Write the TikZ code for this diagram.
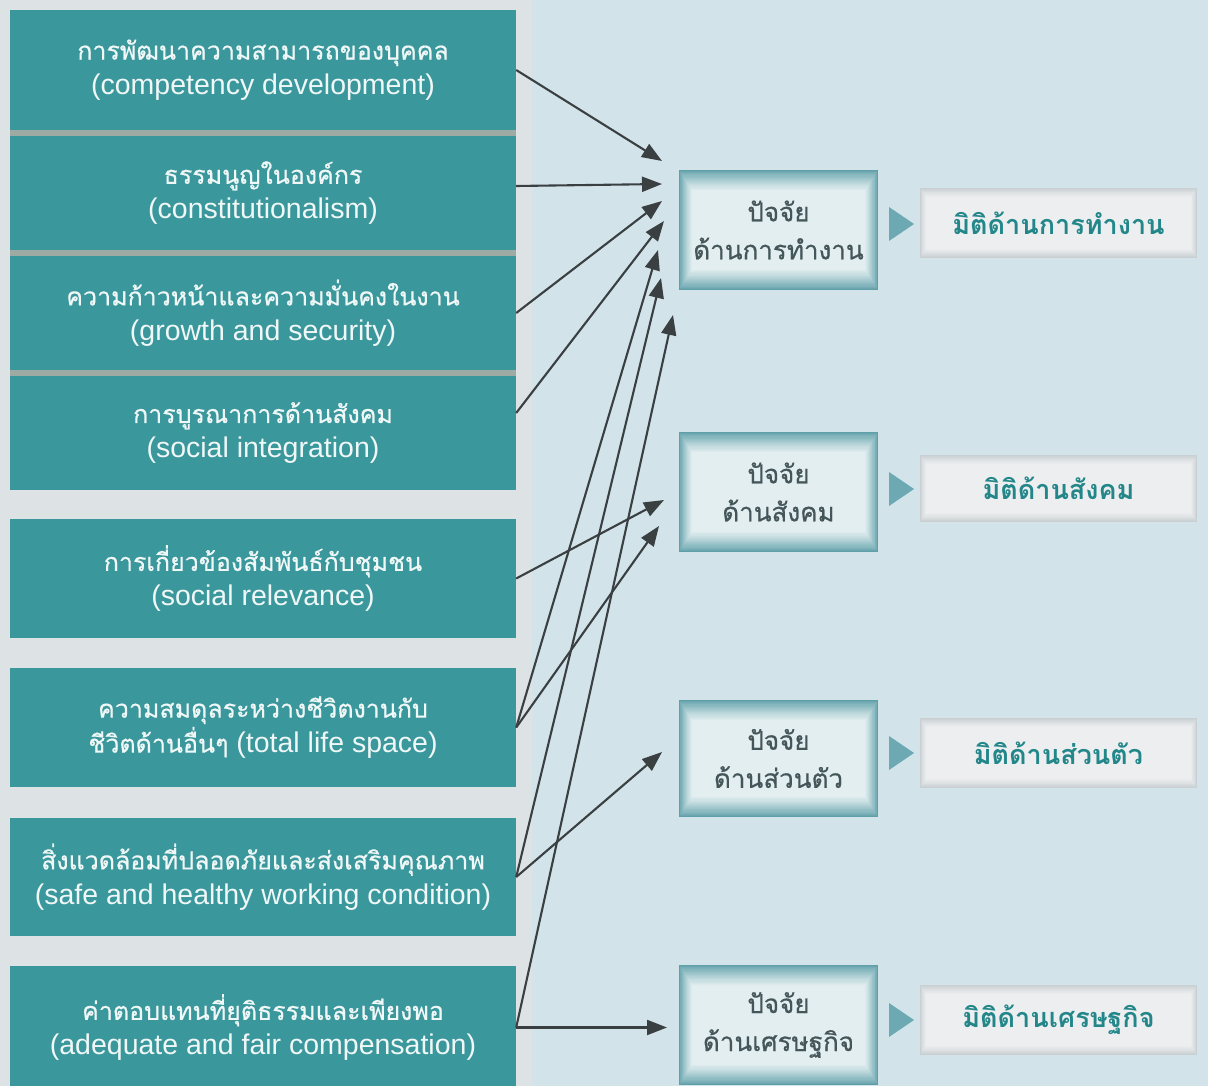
\documentclass[tikz,border=0pt]{standalone}
\usepackage{fontspec}
\setmainfont{Liberation Sans}
\newfontfamily\thaifont[Script=Thai]{Loma}
\newfontfamily\thaimed[Script=Thai,FakeBold=0.6]{Loma}
\newcommand\thl{\fontsize{25}{35}\selectfont\thaimed}
\usetikzlibrary{arrows.meta,calc}
\definecolor{bg}{HTML}{D2E3EA}
\definecolor{leftbg}{HTML}{DDE3E5}
\definecolor{tealbox}{HTML}{3A979C}
\definecolor{sepc}{HTML}{9DABA4}
\definecolor{arrowc}{HTML}{3A3F42}
\definecolor{midedge}{HTML}{5F9FA9}
\definecolor{midlight}{HTML}{E2EEF0}
\definecolor{midtext}{HTML}{44565A}
\definecolor{rgtedge}{HTML}{C9CFD2}
\definecolor{rgtlight}{HTML}{ECEEEF}
\definecolor{rgttext}{HTML}{23878A}
\definecolor{tri}{HTML}{6CA9B3}
% #1..#4 rectangle, #5 edge colour, #6 centre colour, #7 steps, #8 dx, #9 dy
\newcommand\glowbox[9]{%
  \foreach \i in {0,...,#7}{%
    \pgfmathtruncatemacro\p{100*(\i/#7)^0.8}%
    \fill[#6!\p!#5] ({#1+\i*#8},{#2+\i*#9}) rectangle ({#3-\i*#8},{#4-\i*#9});
  }}
\tikzset{
  leftbox/.style={fill=tealbox, text=white!92!tealbox, minimum width=506pt,
    inner sep=0pt, align=center, font=\fontsize{28.5}{35}\selectfont},
  midbox/.style={minimum width=199pt, inner sep=0pt, align=center,
    text=midtext, font=\fontsize{26}{38}\selectfont\thaimed},
  rgtbox/.style={minimum width=277pt, minimum height=70pt, inner sep=0pt,
    text=rgttext, font=\fontsize{27}{34}\selectfont\thaifont\bfseries},
  conn/.style={draw=arrowc, line width=2.1pt,
    -{Triangle[length=20pt,width=15pt]}},
  tip/.style={fill=tri}
}
\begin{document}
\begin{tikzpicture}[x=1pt,y=-1pt]
\useasboundingbox (0,0) rectangle (1208,1086);
\fill[bg] (0,0) rectangle (1208,1086);
\fill[leftbg] (0,0) rectangle (532,1086);
\fill[sepc] (10,10) rectangle (516,490);

% left boxes
\node[leftbox, minimum height=120pt] (b1) at (263,70)
  {{\thl การพัฒนาความสามารถของบุคคล}\\(competency development)};
\node[leftbox, minimum height=114pt] (b2) at (263,193)
  {{\thl ธรรมนูญในองค์กร}\\(constitutionalism)};
\node[leftbox, minimum height=114pt] (b3) at (263,313)
  {{\thl ความก้าวหน้าและความมั่นคงในงาน}\\(growth and security)};
\node[leftbox, minimum height=114pt] (b4) at (263,433)
  {{\thl การบูรณาการด้านสังคม}\\(social integration)};
\node[leftbox, minimum height=119pt] (b5) at (263,578.5)
  {{\thl การเกี่ยวข้องสัมพันธ์กับชุมชน}\\(social relevance)};
\node[leftbox, minimum height=119pt] (b6) at (263,727.5)
  {{\thl ความสมดุลระหว่างชีวิตงานกับ}\\{\thl ชีวิตด้านอื่นๆ} (total life space)};
\node[leftbox, minimum height=118pt] (b7) at (263,877)
  {{\thl สิ่งแวดล้อมที่ปลอดภัยและส่งเสริมคุณภาพ}\\(safe and healthy working condition)};
\node[leftbox, minimum height=123pt] (b8) at (263,1027.5)
  {{\thl ค่าตอบแทนที่ยุติธรรมและเพียงพอ}\\(adequate and fair compensation)};

% middle boxes (soft glow)
\glowbox{679}{170}{878}{290}{midedge}{midlight}{18}{0.7}{1.1}
\glowbox{679}{432}{878}{552}{midedge}{midlight}{18}{0.7}{1.1}
\glowbox{679}{700}{878}{817}{midedge}{midlight}{18}{0.7}{1.1}
\glowbox{679}{965}{878}{1085}{midedge}{midlight}{18}{0.7}{1.1}
\node[midbox, minimum height=120pt] (w) at (778.5,230) {ปัจจัย\\ด้านการทำงาน};
\node[midbox, minimum height=120pt] (s) at (778.5,492) {ปัจจัย\\ด้านสังคม};
\node[midbox, minimum height=117pt] (p) at (778.5,758.5) {ปัจจัย\\ด้านส่วนตัว};
\node[midbox, minimum height=120pt] (e) at (778.5,1025) {ปัจจัย\\ด้านเศรษฐกิจ};

% right boxes
\glowbox{920}{188}{1197}{258}{rgtedge}{rgtlight}{10}{0.6}{0.9}
\glowbox{920}{455}{1197}{522}{rgtedge}{rgtlight}{10}{0.6}{0.9}
\glowbox{920}{718}{1197}{788}{rgtedge}{rgtlight}{10}{0.6}{0.9}
\glowbox{920}{985}{1197}{1055}{rgtedge}{rgtlight}{10}{0.6}{0.9}
\node[rgtbox] (rw) at (1058.5,223) {มิติด้านการทำงาน};
\node[rgtbox] (rs) at (1058.5,488.5) {มิติด้านสังคม};
\node[rgtbox] (rp) at (1058.5,753) {มิติด้านส่วนตัว};
\node[rgtbox] (re) at (1058.5,1020) {มิติด้านเศรษฐกิจ};

% triangles
\fill[tip] (889,207) -- (914,224) -- (889,241) -- cycle;
\fill[tip] (889,472) -- (914,489) -- (889,506) -- cycle;
\fill[tip] (889,736) -- (914,753) -- (889,770) -- cycle;
\fill[tip] (889,1003) -- (914,1020) -- (889,1037) -- cycle;

% arrow end coordinates
\coordinate (w1) at (662,161);
\coordinate (w2) at (662,184);
\coordinate (w3) at (662,201);
\coordinate (w4) at (664,221);
\coordinate (w5) at (658,250);
\coordinate (w6) at (661,278);
\coordinate (w7) at (673,315);
\coordinate (s1) at (664,500);
\coordinate (s2) at (659,526);
\coordinate (p1) at (662,752);
\coordinate (e1) at (667,1027.5);

\draw[conn] (b1.east) -- (w1);
\draw[conn] ([yshift=7pt]b2.east) -- (w2);
\draw[conn] (b3.east) -- (w3);
\draw[conn] ([yshift=20pt]b4.east) -- (w4);
\draw[conn] (b6.east) -- (w5);
\draw[conn] (b7.east) -- (w6);
\draw[conn] (b8.east) -- (w7);
\draw[conn] (b5.east) -- (s1);
\draw[conn] (b6.east) -- (s2);
\draw[conn] (b7.east) -- (p1);
\draw[conn] (b8.east) -- (e1);
\end{tikzpicture}
\end{document}
